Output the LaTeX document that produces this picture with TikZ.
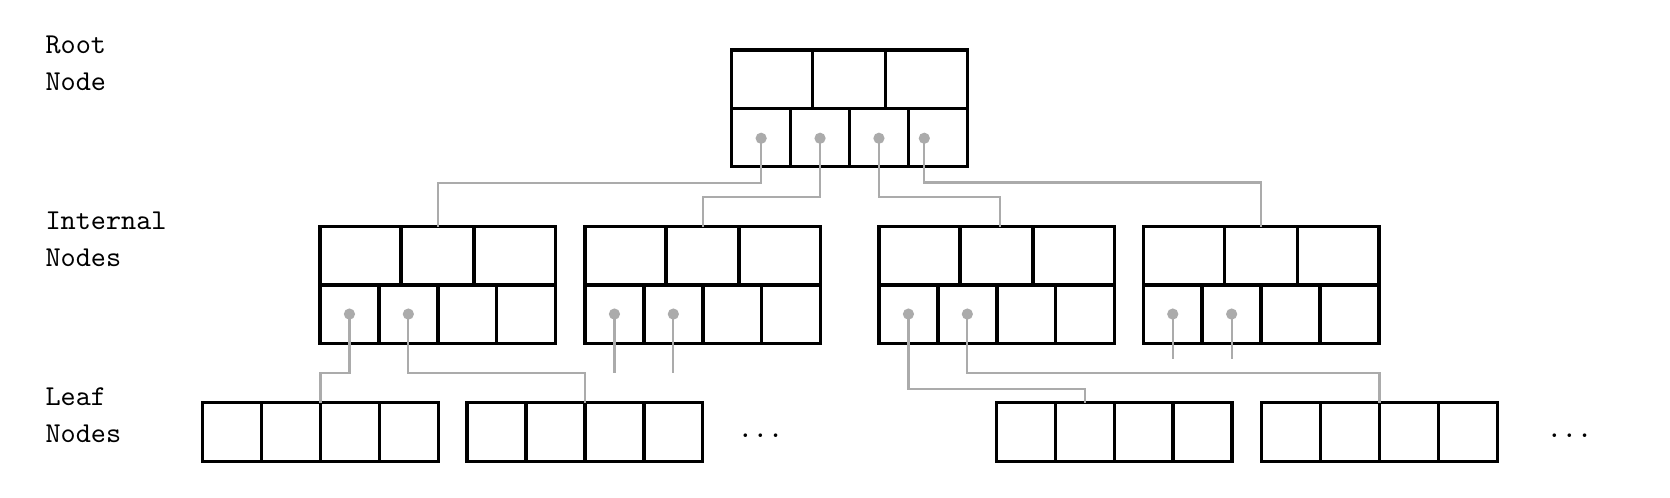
\documentclass[tikz,border=0pt]{standalone}
\usepackage{tikz}
\usetikzlibrary{calc}
\usetikzlibrary{shadows}

\tikzset{
  page/.style={draw, very thick, fill=white, inner sep=0pt, outer sep=0pt,
    anchor=north west, minimum width=81.8pt,
    drop shadow={shadow xshift=0.6pt, shadow yshift=-0.6pt, opacity=0.18}},
  inner page/.style={page, minimum height=40.52pt},
  leaf page/.style={page, minimum height=20.35pt},
  ptr/.style={black!33, line width=0.75pt},
  ptr dot/.style={circle, fill=black!33, inner sep=0pt, minimum size=3.9pt},
  level text/.style={font=\fontsize{10}{12.64}\selectfont\ttfamily,
    align=left, anchor=north west, inner sep=0pt},
}

\begin{document}
\begin{tikzpicture}[x=0.3472pt, y=-0.3472pt]
\useasboundingbox (0,0) rectangle (1670,498);

\node[level text] (lroot)  at (45,35.7)  {Root\\Node};
\node[level text] (linner) at (45,211.7) {Internal\\Nodes};
\node[level text] (lleaf)  at (45,387.4) {Leaf\\Nodes};

\node[inner page] (rt) at (731.7,50) {};
\foreach \n/\x in {in1/320, in2/585, in3/879, in4/1143.3}
  \node[inner page] (\n) at (\x,226.7) {};
\foreach \n/\x in {lf1/202.7, lf2/467.1, lf3/996.5, lf4/1261.7}
  \node[leaf page] (\n) at (\x,402.7) {};

\foreach \n in {rt, in1, in2, in3, in4}
  \draw[very thick]
     (\n.west) -- (\n.east)
     ($(\n.north west)+(81,0)$)  -- ($(\n.west)+(81,0)$)
     ($(\n.north west)+(154,0)$) -- ($(\n.west)+(154,0)$)
     ($(\n.west)+(58.9,0)$)  -- ($(\n.south west)+(58.9,0)$)
     ($(\n.west)+(117.8,0)$) -- ($(\n.south west)+(117.8,0)$)
     ($(\n.west)+(176.7,0)$) -- ($(\n.south west)+(176.7,0)$);
\foreach \n in {lf1, lf2, lf3, lf4}
  \draw[very thick]
     ($(\n.north west)+(58.9,0)$)  -- ($(\n.south west)+(58.9,0)$)
     ($(\n.north west)+(117.8,0)$) -- ($(\n.south west)+(117.8,0)$)
     ($(\n.north west)+(176.7,0)$) -- ($(\n.south west)+(176.7,0)$);

\path
 ($(rt.west)+(29.45,29.9)$)  coordinate (rt-p1)
 ($(rt.west)+(88.35,29.9)$)  coordinate (rt-p2)
 ($(rt.west)+(147.25,29.9)$) coordinate (rt-p3)
 ($(rt.west)+(192.6,29.9)$)  coordinate (rt-p4)
;
\foreach \n in {in1, in2, in3, in4}
  \path
   ($(\n.west)+(29.45,29)$) coordinate (\n-p1)
   ($(\n.west)+(88.35,29)$) coordinate (\n-p2)
  ;

\draw[ptr]
   (rt-p1) |- ($(in1.north)+(0,-44)$) -- (in1.north)
   (rt-p2) |- ($(in2.north)+(0,-30)$) -- (in2.north)
   (rt-p3) |- ($(in3.north)+(3.2,-30)$) -- ($(in3.north)+(3.2,0)$)
   (rt-p4) |- ($(in4.north)+(0,-44.2)$) -- (in4.north)
   (in1-p1) |- ($(lf1.north)+(0,-29.4)$) -- (lf1.north)
   (in1-p2) |- ($(lf2.north)+(0,-29.4)$) -- (lf2.north)
   (in2-p1) -- ++(0,59)
   (in2-p2) -- ++(0,59)
   (in3-p1) |- ($(lf3.north)+(-29.45,-13.7)$) -- ($(lf3.north)+(-29.45,0)$)
   (in3-p2) |- ($(lf4.north)+(0,-30)$) -- (lf4.north)
   (in4-p1) -- ++(0,45)
   (in4-p2) -- ++(0,45)
;
\foreach \p in {rt-p1, rt-p2, rt-p3, rt-p4, in1-p1, in1-p2, in2-p1, in2-p2,
                in3-p1, in3-p2, in4-p1, in4-p2}
  \node[ptr dot] at (\p) {};

\node[font=\ttfamily, inner sep=0pt] (more1) at (760.5,436)  {...};
\node[font=\ttfamily, inner sep=0pt] (more2) at (1569.5,436) {...};
\end{tikzpicture}
\end{document}
